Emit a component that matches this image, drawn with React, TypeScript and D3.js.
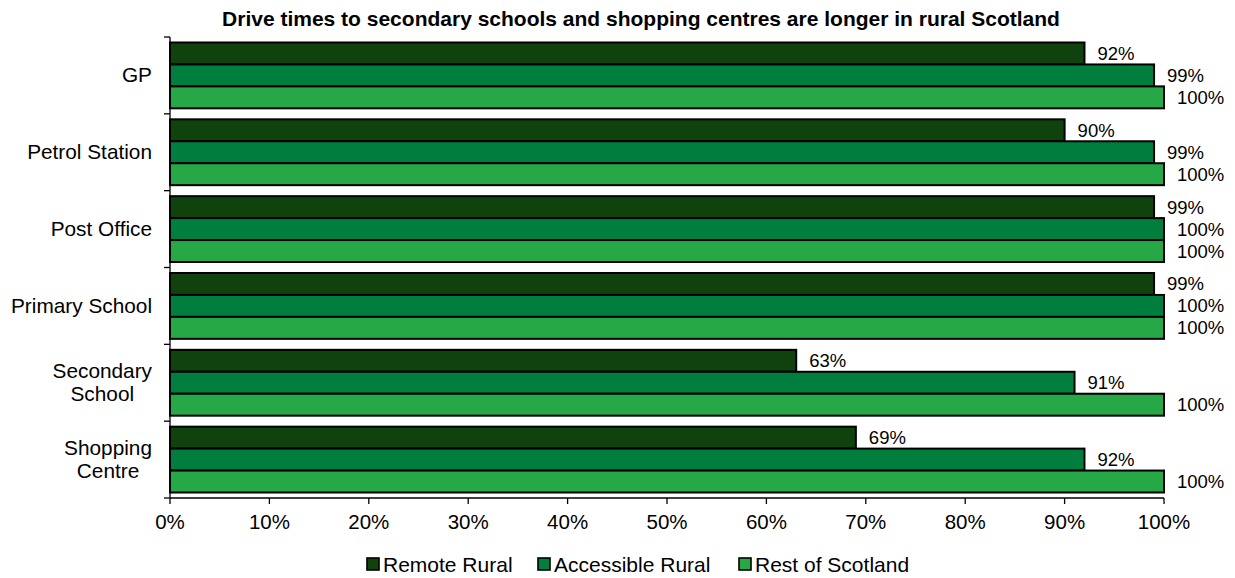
import React, { useEffect, useRef } from "react";
import * as d3 from "d3";

const categories = ["GP", "Petrol Station", "Post Office", "Primary School", "Secondary School", "Shopping Centre"];
const categoryLines = [["GP"], ["Petrol Station"], ["Post Office"], ["Primary School"], ["Secondary", "School"], ["Shopping", "Centre"]];
const seriesNames = ["Remote Rural", "Accessible Rural", "Rest of Scotland"];
const remoteRural = [92, 90, 99, 99, 63, 69];
const accessibleRural = [99, 99, 100, 100, 91, 92];
const restOfScotland = [100, 100, 100, 100, 100, 100];
const xTicks = [0, 10, 20, 30, 40, 50, 60, 70, 80, 90, 100];
const colors = ["#10420e", "#007e3e", "#26a846"];
const title = "Drive times to secondary schools and shopping centres are longer in rural Scotland";

export default function App() {
  const ref = useRef<SVGSVGElement>(null);
  useEffect(() => {
    const left = 170, right = 1164, top = 37, bottom = 498;
    const svg = d3.select(ref.current);
    svg.selectAll("*").remove();
    const font = "Liberation Sans, Arial, sans-serif";
    const x = d3.scaleLinear().domain([0, 100]).range([left, right]);
    const y = d3.scaleBand<string>().domain(categories).range([top, bottom]).paddingInner(0.143).paddingOuter(0.0715);
    const step = y.step();
    const series = [remoteRural, accessibleRural, restOfScotland];
    const inner = d3.scaleBand<string>().domain(seriesNames).range([0, y.bandwidth()]);

    svg.append("text").attr("x", 641).attr("y", 26).attr("text-anchor", "middle")
      .attr("font-family", font).attr("font-weight", "bold").attr("font-size", 21).text(title);

    // bars
    series.forEach((vals, si) => {
      const g = svg.append("g");
      categories.forEach((c, ci) => {
        const by = (y(c) as number) + (inner(seriesNames[si]) as number);
        g.append("rect").attr("x", x(0)).attr("y", by).attr("width", x(vals[ci]) - x(0))
          .attr("height", inner.bandwidth()).attr("fill", colors[si]).attr("stroke", "#000").attr("stroke-width", 2);
        g.append("text").attr("x", x(vals[ci]) + 13).attr("y", by + inner.bandwidth() / 2 + 6.5)
          .attr("font-family", font).attr("font-size", 18.5).attr("fill", "#000").text(vals[ci] + "%");
      });
    });

    // y axis
    svg.append("line").attr("x1", left).attr("x2", left).attr("y1", top).attr("y2", bottom).attr("stroke", "#000").attr("stroke-width", 1.3);
    for (let i = 0; i <= categories.length; i++) {
      const ty = top + i * step;
      svg.append("line").attr("x1", left - 6).attr("x2", left).attr("y1", ty).attr("y2", ty).attr("stroke", "#000").attr("stroke-width", 1.3);
    }
    categoryLines.forEach((lines, ci) => {
      const cy = (y(categories[ci]) as number) + y.bandwidth() / 2;
      const n = lines.length;
      const lh = 23;
      const t = svg.append("g");
      const texts = lines.map((ln, li) =>
        t.append("text").attr("x", 152).attr("y", cy + (li - (n - 1) / 2) * lh + 7)
          .attr("font-family", font).attr("font-size", 20.8).attr("text-anchor", n > 1 ? "middle" : "end").text(ln));
      if (n > 1) {
        const widths = texts.map((tx) => (tx.node() as SVGTextElement).getComputedTextLength());
        const mw = Math.max(...widths);
        texts.forEach((tx) => tx.attr("x", 152 - mw / 2));
      }
    });

    // x axis
    svg.append("line").attr("x1", left).attr("x2", right).attr("y1", bottom).attr("y2", bottom).attr("stroke", "#000").attr("stroke-width", 1.3);
    xTicks.forEach((v) => {
      svg.append("line").attr("x1", x(v)).attr("x2", x(v)).attr("y1", bottom).attr("y2", bottom + 6).attr("stroke", "#000").attr("stroke-width", 1.3);
      svg.append("text").attr("x", x(v)).attr("y", bottom + 31).attr("text-anchor", "middle")
        .attr("font-family", font).attr("font-size", 20.5).text(v + "%");
    });

    // legend
    const legendX = [367, 538, 739];
    seriesNames.forEach((s, i) => {
      svg.append("rect").attr("x", legendX[i]).attr("y", 558).attr("width", 12).attr("height", 12)
        .attr("fill", colors[i]).attr("stroke", "#000").attr("stroke-width", 1.6);
      svg.append("text").attr("x", legendX[i] + 16).attr("y", 572).attr("font-family", font).attr("font-size", 21).text(s);
    });
  }, []);
  return (
    <div style={{ position: "fixed", left: 0, top: 0 }}>
      <svg ref={ref} width={1235} height={578} style={{ display: "block", background: "#fff" }} />
    </div>
  );
}
